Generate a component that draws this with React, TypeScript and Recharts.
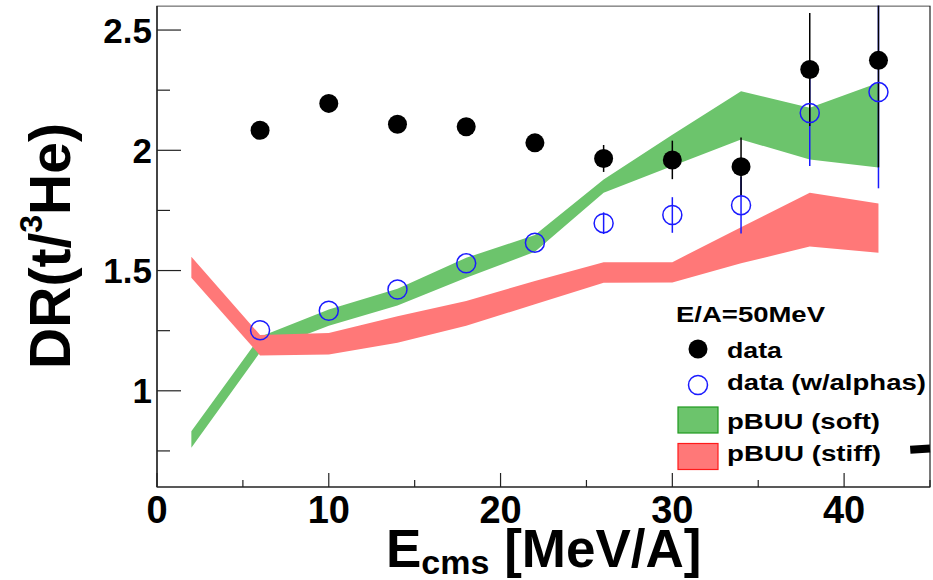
import React from "react";
import {
  ComposedChart, Area, Scatter, ErrorBar, XAxis, YAxis,
  ReferenceArea, ReferenceLine,
} from "recharts";

// measured double ratio vs. centre-of-mass energy
const energy = [6, 10, 14, 18, 22, 26, 30, 34, 38, 42];
const drData = [2.083, 2.195, 2.108, 2.098, 2.031, 1.966, 1.96, 1.932, 2.336, 2.374];
const drDataErr = [0, 0, 0, 0, 0, 0.056, 0.08, 0.121, 0.235, 0.445];
const drAlpha = [1.252, 1.333, 1.421, 1.53, 1.616, 1.697, 1.731, 1.772, 2.155, 2.242];
const drAlphaErr = [0, 0, 0, 0, 0, 0.045, 0.074, 0.118, 0.22, 0.4];

// pBUU bands (low / high edge)
const modelEnergy = [2, 6, 10, 14, 18, 22, 26, 30, 34, 38, 42];
const softLow = [0.763, 1.16, 1.27, 1.355, 1.47, 1.578, 1.823, 1.935, 2.045, 1.962, 1.928];
const softHigh = [0.832, 1.225, 1.338, 1.424, 1.553, 1.648, 1.879, 2.065, 2.246, 2.177, 2.281];
const stiffLow = [1.47, 1.147, 1.151, 1.2, 1.27, 1.36, 1.449, 1.45, 1.53, 1.6, 1.574];
const stiffHigh = [1.557, 1.232, 1.24, 1.31, 1.373, 1.457, 1.535, 1.535, 1.68, 1.824, 1.779];

const xTicks = [0, 5, 10, 15, 20, 25, 30, 35, 40, 45];
const yTicks = [0.75, 1, 1.25, 1.5, 1.75, 2, 2.25, 2.5];

const bandRows = modelEnergy.map((e, i) => ({
  e,
  soft: [softLow[i], softHigh[i]],
  stiff: [stiffLow[i], stiffHigh[i]],
}));
const dataRows = energy.map((e, i) => ({ e, dr: drData[i], err: drDataErr[i] }));
const alphaRows = energy.map((e, i) => ({ e, dr: drAlpha[i], err: drAlphaErr[i] }));

const FONT = "'Liberation Sans', Arial, Helvetica, sans-serif";
const AXIS = "#222";
const GREEN = "#6cc46c";
const RED = "#ff7878";
const BLUE = "#1a1aff";

function XTick(props: any) {
  const { x, y, payload } = props;
  const v = payload.value as number;
  const major = v % 10 === 0;
  return (
    <g>
      <line x1={x} x2={x} y1={y} y2={y - (major ? 14 : 7)} stroke={AXIS} strokeWidth={1.2} />
      {major && v <= 40 && (
        <text x={x} y={y + 36} textAnchor="middle" fontFamily={FONT} fontWeight="bold" fontSize={38} fill="#000">
          {v}
        </text>
      )}
    </g>
  );
}

function YTick(props: any) {
  const { x, y, payload } = props;
  const v = payload.value as number;
  const major = Number.isInteger(v * 2);
  return (
    <g>
      <line x1={x} x2={x + (major ? 24 : 13)} y1={y} y2={y} stroke={AXIS} strokeWidth={1.2} />
      {major && (
        <text x={x - 5} y={y + 12.5} textAnchor="end" fontFamily={FONT} fontWeight="bold" fontSize={35} fill="#000">
          {Number.isInteger(v) ? v : v.toFixed(1)}
        </text>
      )}
    </g>
  );
}

const blackDot = (p: any) => <circle cx={p.cx} cy={p.cy} r={9.5} fill="#000" />;
const blueRing = (p: any) => <circle cx={p.cx} cy={p.cy} r={9.5} fill="none" stroke={BLUE} strokeWidth={1.5} />;

export default function App() {
  return (
    <div style={{ position: "absolute", left: 0, top: 0, width: 933, height: 580, background: "#fff" }}>
      <ComposedChart
        width={933}
        height={580}
        data={bandRows}
        margin={{ top: 6, right: 3, left: 57, bottom: 33 }}
      >
        <XAxis
          type="number"
          dataKey="e"
          domain={[0, 45]}
          ticks={xTicks}
          interval={0}
          height={60}
          tickLine={false}
          tickSize={0}
          tickMargin={0}
          axisLine={{ stroke: AXIS, strokeWidth: 1.2 }}
          tick={<XTick />}
        />
        <YAxis
          type="number"
          domain={[0.6, 2.6]}
          allowDataOverflow
          ticks={yTicks}
          interval={0}
          width={100}
          tickLine={false}
          tickSize={0}
          tickMargin={0}
          axisLine={{ stroke: AXIS, strokeWidth: 1.2 }}
          tick={<YTick />}
        />
        <Area type="linear" dataKey="soft" stroke="none" fill={GREEN} fillOpacity={1} isAnimationActive={false} />
        <Area type="linear" dataKey="stiff" stroke="none" fill={RED} fillOpacity={1} isAnimationActive={false} />
        <Scatter data={alphaRows} dataKey="dr" shape={blueRing} isAnimationActive={false}>
          <ErrorBar dataKey="err" direction="y" width={0} stroke={BLUE} strokeWidth={1.5} isAnimationActive={false} />
        </Scatter>
        <Scatter data={dataRows} dataKey="dr" shape={blackDot} isAnimationActive={false}>
          <ErrorBar dataKey="err" direction="y" width={0} stroke="#000" strokeWidth={1.5} isAnimationActive={false} />
        </Scatter>
        <ReferenceArea x1={0} x2={45} y1={0.6} y2={2.6} fill="none" stroke={AXIS} strokeWidth={1.2} />
        <ReferenceLine
          segment={[{ x: 43.85, y: 0.755 }, { x: 45, y: 0.76 }]}
          stroke="#000"
          strokeWidth={8}
          ifOverflow="visible"
        />
      </ComposedChart>

      {/* axis titles and legend; the strip above the frame hides error bars running past the top */}
      <svg width={933} height={580} style={{ position: "absolute", left: 0, top: 0, pointerEvents: "none" }}>
        <rect x={150} y={0} width={783} height={5.4} fill="#fff" />
        <text x={386} y={567} fontFamily={FONT} fontWeight="bold" fontSize={53} fill="#000">
          E
          <tspan fontSize={34} dy={7}>cms</tspan>
          <tspan fontSize={53} dy={-7}> [MeV/A]</tspan>
        </text>
        <text
          x={70}
          y={246}
          transform="rotate(-90 70 246)"
          textAnchor="middle"
          fontFamily={FONT}
          fontWeight="bold"
          fontSize={57}
          fill="#000"
        >
          DR(t/
          <tspan fontSize={32} dy={-28}>3</tspan>
          <tspan dy={28}>He)</tspan>
        </text>

        <g fontFamily={FONT} fontWeight="bold" fontSize={22} fill="#000">
          <text x={676} y={321.5} textLength={149} lengthAdjust="spacingAndGlyphs">E/A=50MeV</text>
          <circle cx={698} cy={349} r={9.5} fill="#000" />
          <text x={727} y={358.3} textLength={55} lengthAdjust="spacingAndGlyphs">data</text>
          <circle cx={698} cy={385} r={9.5} fill="none" stroke={BLUE} strokeWidth={1.5} />
          <text x={727} y={390} textLength={199} lengthAdjust="spacingAndGlyphs">data (w/alphas)</text>
          <rect x={678} y={407} width={40} height={26} fill={GREEN} stroke="#1f9a1f" strokeWidth={1.2} />
          <text x={727} y={428.5} textLength={153} lengthAdjust="spacingAndGlyphs">pBUU (soft)</text>
          <rect x={678} y={443.5} width={40} height={26} fill={RED} stroke="#ff1a1a" strokeWidth={1.2} />
          <text x={727} y={461} textLength={154} lengthAdjust="spacingAndGlyphs">pBUU (stiff)</text>
        </g>
      </svg>
    </div>
  );
}
